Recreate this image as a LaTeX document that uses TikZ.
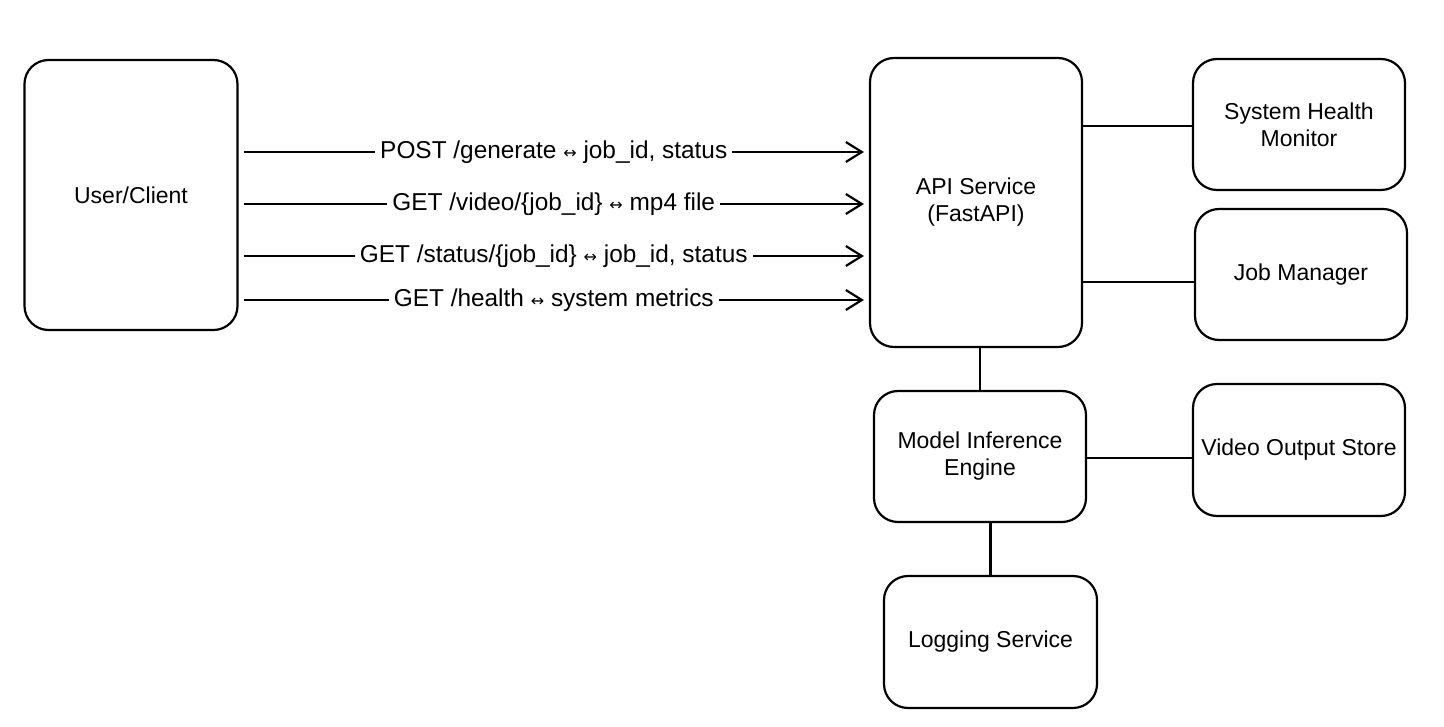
\documentclass[tikz,border=0pt]{standalone}
\usepackage{fontspec}
\setmainfont{Liberation Sans}
\newfontfamily\arrowfont{DejaVu Sans}
\usetikzlibrary{arrows.meta}
\newcommand{\lrarrow}{{\arrowfont\footnotesize ↔}}
\begin{document}
\begin{tikzpicture}[x=0.5pt,y=-0.5pt,
	box/.style={draw,line width=1.1pt,rounded corners=12pt,align=center,inner sep=0pt,minimum width=106pt,minimum height=66pt,font=\fontsize{11.5}{13.5}\selectfont},
	call/.style={-{Straight Barb[length=8pt,width=10pt,line width=1.1pt]},line width=1.1pt,shorten <=2.5pt,shorten >=2.5pt},
	link/.style={line width=1.1pt},
	lbl/.style={fill=white,inner sep=2.5pt,font=\fontsize{12.2}{14}\selectfont}]
	\useasboundingbox (0,0) rectangle (1444,727);
	\node[box,minimum width=106.5pt,minimum height=135pt] (client) at (131,195) {User/Client};
	\node[box,minimum height=144.5pt] (api) at (976,202.5) {API Service\\(FastAPI)};
	\node[box,minimum height=65.5pt] (health) at (1299,124.5) {System Health\\Monitor};
	\node[box,minimum height=65.5pt] (jobs) at (1301,274.5) {Job Manager};
	\node[box,minimum height=65.5pt] (engine) at (980,456.5) {Model Inference\\Engine};
	\node[box] (store) at (1299,450) {Video Output Store};
	\node[box,minimum width=106.5pt] (logging) at (990.5,642) {Logging Service};
	\draw[call] (client.east |- 0,152) -- (api.west |- 0,152) node[lbl,midway] {POST /generate \lrarrow{} job\_id, status};
	\draw[call] (client.east |- 0,204) -- (api.west |- 0,204) node[lbl,midway] {GET /video/\{job\_id\} \lrarrow{} mp4 file};
	\draw[call] (client.east |- 0,256) -- (api.west |- 0,256) node[lbl,midway] {GET /status/\{job\_id\} \lrarrow{} job\_id, status};
	\draw[call] (client.east |- 0,300) -- (api.west |- 0,300) node[lbl,midway] {GET /health \lrarrow{} system metrics};
	\draw[link] (api.east |- 0,126) -- (health.west |- 0,126);
	\draw[link] (api.east |- 0,282) -- (jobs.west |- 0,282);
	\draw[link] (engine.north |- api.south) -- (engine.north);
	\draw[link] (engine.east |- 0,458) -- (store.west |- 0,458);
	\draw[link] (logging.north |- engine.south) -- (logging.north);
\end{tikzpicture}
\end{document}
